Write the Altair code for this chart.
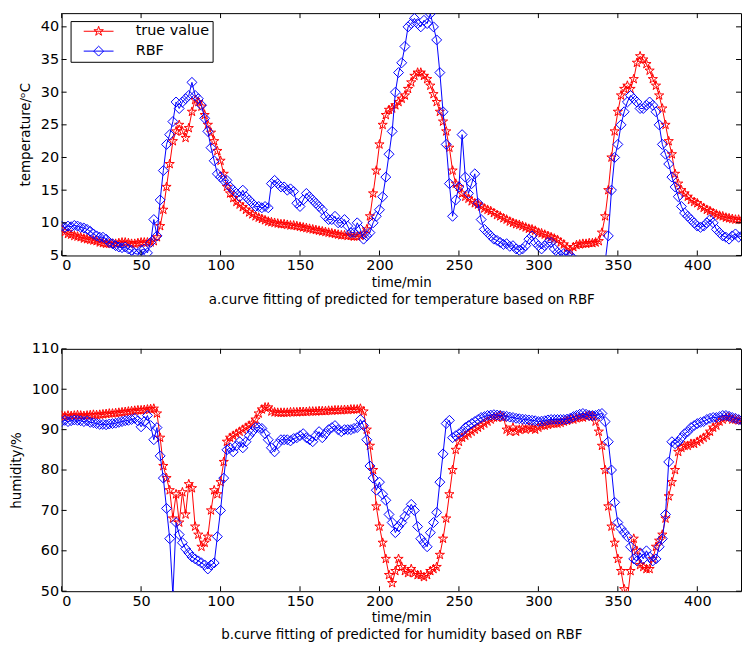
import altair as alt
import pandas as pd

# ---------------- data (one value every 2 min) ----------------
time_min = list(range(0, 430, 2))

temp_true = [
    9.0, 8.6, 8.3, 8.2, 8.0, 7.9, 7.8, 7.6, 7.5, 7.4,
    7.3, 7.2, 7.0, 6.9, 6.8, 6.8, 6.8, 6.8, 6.9, 7.0,
    7.0, 6.9, 6.8, 6.8, 6.9, 7.0, 7.0, 7.0, 7.0, 7.2,
    7.8, 9.5, 12.0, 15.5, 19.0, 22.5, 24.0, 25.0, 24.0, 23.0,
    24.5, 27.0, 28.8, 28.5, 27.8, 26.5, 25.0, 23.8, 22.5, 21.0,
    19.5, 17.5, 15.5, 14.5, 13.8, 13.2, 12.8, 12.4, 12.0, 11.6,
    11.3, 11.0, 10.8, 10.6, 10.4, 10.2, 10.1, 10.0, 9.9, 9.8,
    9.8, 9.7, 9.6, 9.6, 9.5, 9.4, 9.3, 9.2, 9.1, 9.0,
    8.9, 8.8, 8.7, 8.6, 8.5, 8.4, 8.3, 8.2, 8.1, 8.1,
    8.0, 8.0, 7.9, 7.9, 8.0, 8.3, 9.0, 11.0, 14.5, 18.0,
    22.0, 25.0, 26.5, 27.3, 27.5, 28.0, 28.5, 29.0, 29.5, 30.5,
    31.5, 32.5, 33.0, 33.0, 32.5, 32.0, 31.0, 29.7, 28.5, 27.0,
    25.5, 24.0, 21.5, 18.0, 16.0, 15.5, 14.5, 14.0, 13.7, 13.3,
    13.0, 12.8, 12.5, 12.2, 12.0, 11.8, 11.5, 11.2, 11.0, 10.7,
    10.5, 10.2, 10.0, 9.8, 9.7, 9.5, 9.3, 9.1, 9.0, 8.8,
    8.5, 8.4, 8.2, 8.0, 7.8, 7.6, 7.4, 7.0, 6.7, 6.2,
    5.8, 6.3, 6.6, 6.7, 6.8, 6.8, 6.9, 6.9, 7.0, 7.2,
    8.5, 11.0, 15.0, 20.0, 24.0, 27.0, 29.5, 30.5, 31.0, 30.5,
    32.0, 34.5, 35.5, 35.0, 34.3, 33.3, 32.0, 31.0, 29.5, 27.5,
    25.0, 22.5, 20.5, 17.5, 16.0, 15.0, 14.5, 14.0, 13.5, 13.2,
    13.0, 12.6, 12.3, 12.0, 11.8, 11.5, 11.3, 11.1, 11.0, 10.8,
    10.7, 10.6, 10.5, 10.5, 10.5,
]

temp_rbf = [
    9.5, 9.3, 9.5, 9.4, 9.6, 9.5, 9.3, 9.2, 9.0, 8.7,
    8.3, 8.0, 7.8, 7.8, 7.5, 7.0, 6.8, 6.5, 6.3, 6.2,
    6.3, 6.0, 5.8, 5.3, 5.2, 5.8, 6.0, 5.4, 7.0, 10.5,
    8.0, 13.5, 18.0, 22.0, 23.5, 25.5, 28.5, 27.5, 28.5, 29.0,
    29.5, 31.5, 29.5, 29.0, 28.0, 26.0, 24.0, 21.5, 19.5, 17.5,
    17.0, 16.5, 16.5, 15.5, 15.0, 14.5, 14.0, 15.0, 14.0, 13.5,
    13.0, 12.5, 12.5, 12.3, 12.5, 12.3, 16.0, 16.5, 16.0, 15.5,
    15.5, 15.0, 15.2, 14.8, 13.0, 12.5, 13.5, 14.5, 14.0, 13.5,
    13.0, 12.5, 12.0, 11.0, 10.5, 10.5, 11.0, 10.0, 10.0, 10.5,
    9.5, 8.5, 8.5, 10.0, 9.0, 7.5, 8.0, 8.5, 10.0, 11.0,
    12.0, 14.0, 17.0, 20.5, 24.0, 30.0, 33.0, 34.5, 37.0, 40.0,
    40.5, 41.3, 40.5, 40.0, 41.0, 40.5, 42.0, 40.0, 38.0, 33.0,
    27.0, 22.0, 16.0, 11.0, 13.5, 15.5, 23.5, 17.0, 14.5, 16.0,
    17.5, 13.0, 10.5, 9.0, 8.5, 8.0, 7.5, 7.3, 7.0, 6.7,
    6.8, 6.4, 6.5, 6.0, 5.8, 6.0, 6.5, 7.5, 8.0, 7.0,
    6.5, 6.0, 6.5, 7.0, 7.0, 6.0, 5.5, 5.0, 5.3, 5.1,
    5.0, 4.5, 4.2, 4.0, 4.0, 3.8, 3.8, 3.6, 3.5, 3.5,
    3.5, 4.0, 8.0, 15.0, 20.0, 22.0, 25.0, 27.0, 28.5, 29.5,
    29.0, 28.5, 27.5, 27.5, 28.0, 28.5, 28.0, 27.0, 25.0, 22.0,
    20.5, 19.0, 17.0, 15.5, 14.0, 12.5, 11.5, 11.0, 10.5, 10.0,
    9.5, 9.3, 9.5, 10.0, 10.5, 10.0, 9.0, 8.5, 8.0, 7.8,
    7.5, 8.0, 8.3, 7.8, 8.0,
]

hum_true = [
    93.5, 93.3, 93.5, 93.4, 93.5, 93.6, 93.5, 93.4, 93.5, 93.6,
    93.7, 93.6, 93.7, 93.8, 93.9, 94.0, 94.0, 94.1, 94.2, 94.3,
    94.4, 94.5, 94.6, 94.7, 94.8, 94.8, 94.9, 95.0, 95.1, 95.2,
    94.0, 88.0, 81.0, 78.0, 75.0, 68.0, 74.0, 67.0, 74.5, 69.0,
    76.5, 75.5, 66.0, 64.0, 61.0, 62.0, 63.5, 70.0, 75.0, 74.0,
    77.0, 82.0, 87.0, 88.0, 88.5, 89.0, 89.5, 90.0, 90.5, 91.0,
    91.5, 92.5, 94.0, 95.0, 95.5, 95.5, 94.5, 94.3, 94.2, 94.2,
    94.2, 94.2, 94.3, 94.3, 94.3, 94.4, 94.4, 94.4, 94.5, 94.5,
    94.5, 94.6, 94.6, 94.6, 94.7, 94.7, 94.8, 94.8, 94.8, 94.9,
    94.9, 95.0, 95.0, 95.0, 95.2, 94.5, 90.0, 86.0, 80.0, 71.0,
    66.0, 62.0, 58.0, 54.0, 52.0, 55.0, 58.0, 56.0, 55.0, 54.5,
    55.5, 54.5, 54.0, 54.0, 53.5, 54.0, 55.0, 55.5, 56.0, 59.0,
    63.0, 68.0, 74.0, 80.0, 85.0, 87.0, 88.0, 88.5, 89.0, 89.5,
    90.0, 90.5, 91.0, 91.5, 92.0, 92.5, 93.0, 93.0, 93.5, 93.0,
    90.0, 89.5, 90.5, 89.5, 90.0, 90.3, 90.0, 90.5, 90.3, 90.0,
    90.5, 91.0, 91.0, 91.2, 91.5, 91.5, 91.5, 91.7, 92.0, 92.2,
    92.5, 92.5, 92.8, 93.0, 93.0, 93.3, 93.5, 93.3, 92.0, 89.5,
    86.0, 80.0, 71.0, 66.0, 62.0, 58.0, 55.0, 50.5, 48.0, 55.0,
    63.0, 60.0, 56.5, 56.0, 55.5, 55.5, 58.0, 61.0, 62.5, 64.0,
    68.0, 73.5, 77.0, 80.0, 84.5, 85.5, 86.0, 86.0, 86.5, 86.5,
    87.0, 87.5, 88.0, 88.5, 89.5, 90.5, 91.0, 92.0, 92.5, 93.0,
    93.0, 92.5, 92.5, 92.3, 92.3,
]

hum_rbf = [
    92.0, 92.3, 92.0, 92.2, 92.4, 92.3, 92.2, 92.0, 92.2, 91.8,
    91.7, 91.5, 91.3, 91.3, 91.2, 91.4, 91.5, 91.6, 91.8, 92.0,
    92.2, 92.3, 92.5, 92.8, 92.2, 90.7, 92.0, 93.5, 91.0, 87.5,
    90.5, 83.5, 78.0, 70.5, 63.0, 49.0, 67.0, 64.0, 62.0, 60.5,
    59.5, 58.5, 58.0, 57.5, 57.0, 56.5, 55.5, 56.5, 57.0, 63.5,
    70.0, 78.0, 85.0, 85.5, 84.5, 86.0, 87.0, 85.5, 87.0, 88.5,
    89.5, 90.5, 90.5, 90.3, 89.0, 87.5, 85.5, 84.5, 86.5, 87.5,
    87.5, 87.5, 87.2, 87.8, 88.0, 88.5, 89.0, 88.0, 87.5, 87.0,
    88.5, 89.5, 88.0, 89.0, 90.0, 90.5, 91.0, 90.0, 89.5, 90.0,
    90.0, 90.0, 90.3, 90.5, 92.5, 91.0, 87.5, 81.0, 78.0, 75.0,
    77.0, 74.0, 72.5, 69.0, 67.0, 64.5, 66.0, 67.0, 68.5, 70.0,
    71.5, 70.0, 66.0, 63.0, 62.0, 61.0, 64.5, 67.0, 69.5, 77.0,
    84.0, 91.5, 92.3, 88.0, 88.5, 89.0, 89.5, 90.5, 91.0, 91.5,
    92.0, 92.5, 93.0, 93.2, 93.5, 93.6, 93.7, 93.6, 93.5, 93.4,
    93.3, 93.1, 93.0, 92.8, 92.7, 92.6, 92.5, 92.4, 92.3, 92.2,
    92.0, 92.1, 92.2, 92.4, 92.5, 92.5, 92.5, 92.5, 92.5, 92.6,
    92.8, 93.2, 93.5, 93.8, 94.0, 93.8, 93.5, 93.5, 93.5, 93.8,
    94.0, 92.0, 87.0, 80.0, 72.0, 67.0, 65.5, 64.5, 63.5, 61.0,
    58.0, 57.5, 59.5, 58.0, 60.0, 58.5, 57.5, 58.0, 61.0, 63.0,
    69.0, 82.0, 87.0, 86.5, 87.0, 88.0, 89.0, 89.5, 90.5, 91.0,
    91.5, 91.8, 92.0, 92.5, 92.8, 93.0, 93.0, 93.2, 93.5, 93.5,
    93.3, 93.0, 92.8, 92.5, 92.3,
]

series_names = ["true value", "RBF"]
series_colors = ["#ff0000", "#0000ff"]
x_ticks = [0, 50, 100, 150, 200, 250, 300, 350, 400]
temp_ticks = [5, 10, 15, 20, 25, 30, 35, 40]
hum_ticks = [50, 60, 70, 80, 90, 100, 110]

# ---------------- styling ----------------
FONT = "DejaVu Sans"
STAR = ("M0,-1L0.225,-0.309L0.951,-0.309L0.363,0.118L0.588,0.809L0,0.382"
        "L-0.588,0.809L-0.363,0.118L-0.951,-0.309L-0.225,-0.309Z")
DIAMOND = "M0,-1L1,0L0,1L-1,0Z"
LEG_STAR = "M-3,0L3,0" + STAR
LEG_DIAMOND = "M-3,0L3,0" + DIAMOND
W, H = 684, 244
X_MAX = 427.5
TICK = 5


def panel(true_vals, rbf_vals, ydom, yticks, ytitle, caption,
          xlabel_pad, xtitle_pad, xtitle_lh):
    df = pd.DataFrame({
        "time": time_min * 2,
        "value": list(true_vals) + list(rbf_vals),
        "series": [series_names[0]] * len(time_min) + [series_names[1]] * len(time_min),
    })
    base = alt.Chart(df)
    xs = alt.Scale(domain=[0, X_MAX], nice=False, zero=False)
    ys = alt.Scale(domain=ydom, nice=False, zero=False)

    x_main = alt.X("time:Q", scale=xs, axis=alt.Axis(
        values=x_ticks, orient="bottom", title=["time/min", caption],
        ticks=False, domain=False, grid=False, labelPadding=xlabel_pad,
        titlePadding=xtitle_pad, titleLineHeight=xtitle_lh))
    y_main = alt.Y("value:Q", scale=ys, axis=alt.Axis(
        values=yticks, orient="left", title=ytitle, ticks=False,
        domain=False, grid=False, labelPadding=3, titlePadding=8))
    x_none = alt.X("time:Q", scale=xs, axis=None)
    y_none = alt.Y("value:Q", scale=ys, axis=None)

    red = base.transform_filter(alt.datum.series == series_names[0])
    blue = base.transform_filter(alt.datum.series == series_names[1])

    red_line = red.mark_line(color=series_colors[0], strokeWidth=1, clip=True).encode(x=x_main, y=y_main)
    red_pts = red.mark_point(shape=STAR, size=95, color=series_colors[0], filled=False,
                             strokeWidth=1, opacity=1, clip=True).encode(x=x_none, y=y_none)
    blue_line = blue.mark_line(color=series_colors[1], strokeWidth=1, clip=True).encode(x=x_none, y=y_none)
    blue_pts = blue.mark_point(shape=DIAMOND, size=100, color=series_colors[1], filled=False,
                               strokeWidth=1, opacity=1, clip=True).encode(x=x_none, y=y_none)

    # inward tick marks on all four sides (MATLAB box style)
    xt = alt.Chart(pd.DataFrame({"tick": x_ticks}))
    yt = alt.Chart(pd.DataFrame({"tick": yticks}))
    tick_style = dict(color="black", strokeWidth=1)
    t_bottom = xt.mark_rule(**tick_style).encode(
        x=alt.X("tick:Q", scale=xs, axis=None), y=alt.value(H), y2=alt.value(H - TICK))
    t_top = xt.mark_rule(**tick_style).encode(
        x=alt.X("tick:Q", scale=xs, axis=None), y=alt.value(0), y2=alt.value(TICK))
    t_left = yt.mark_rule(**tick_style).encode(
        y=alt.Y("tick:Q", scale=ys, axis=None), x=alt.value(0), x2=alt.value(TICK))
    t_right = yt.mark_rule(**tick_style).encode(
        y=alt.Y("tick:Q", scale=ys, axis=None), x=alt.value(W), x2=alt.value(W - TICK))

    legend_layer = base.transform_filter("false").mark_point(
        filled=False, size=100, strokeWidth=1, opacity=1).encode(
        color=alt.Color("series:N", scale=alt.Scale(domain=series_names, range=series_colors),
                        legend=alt.Legend(
                            orient="none", legendX=9, legendY=8, title=None,
                            strokeColor="black", fillColor="white", padding=3,
                            symbolOffset=18, labelOffset=30, symbolSize=100,
                            symbolStrokeWidth=1, rowPadding=5,
                            labelFont=FONT, labelFontSize=14.5, labelColor="black")),
        shape=alt.Shape("series:N", scale=alt.Scale(domain=series_names,
                                                    range=[LEG_STAR, LEG_DIAMOND])),
    )

    return alt.layer(red_line, red_pts, blue_line, blue_pts,
                     t_bottom, t_top, t_left, t_right, legend_layer).resolve_axis(
        x="independent", y="independent").properties(width=W, height=H)


chart_a = panel(temp_true, temp_rbf, [5, 42.1], temp_ticks, "temperature/ᵒC",
                "a.curve fitting of predicted for temperature based on RBF", 3, 4, 17)
chart_b = panel(hum_true, hum_rbf, [50, 110], hum_ticks, "humidity/%",
                "b.curve fitting of predicted for humidity based on RBF", 3, 3, 17)

chart = alt.vconcat(chart_a, chart_b, spacing=94, bounds="flush").properties(
    padding={"left": 0, "top": 2, "right": 0, "bottom": 0},
    background="white",
).configure_view(stroke="black", strokeWidth=1).configure_axis(
    labelFont=FONT, labelFontSize=14.5, labelColor="black",
    titleFont=FONT, titleFontSize=13.5, titleFontWeight="normal", titleColor="black",
)

chart.save("out.html", embed_options={"renderer": "svg", "actions": False})
